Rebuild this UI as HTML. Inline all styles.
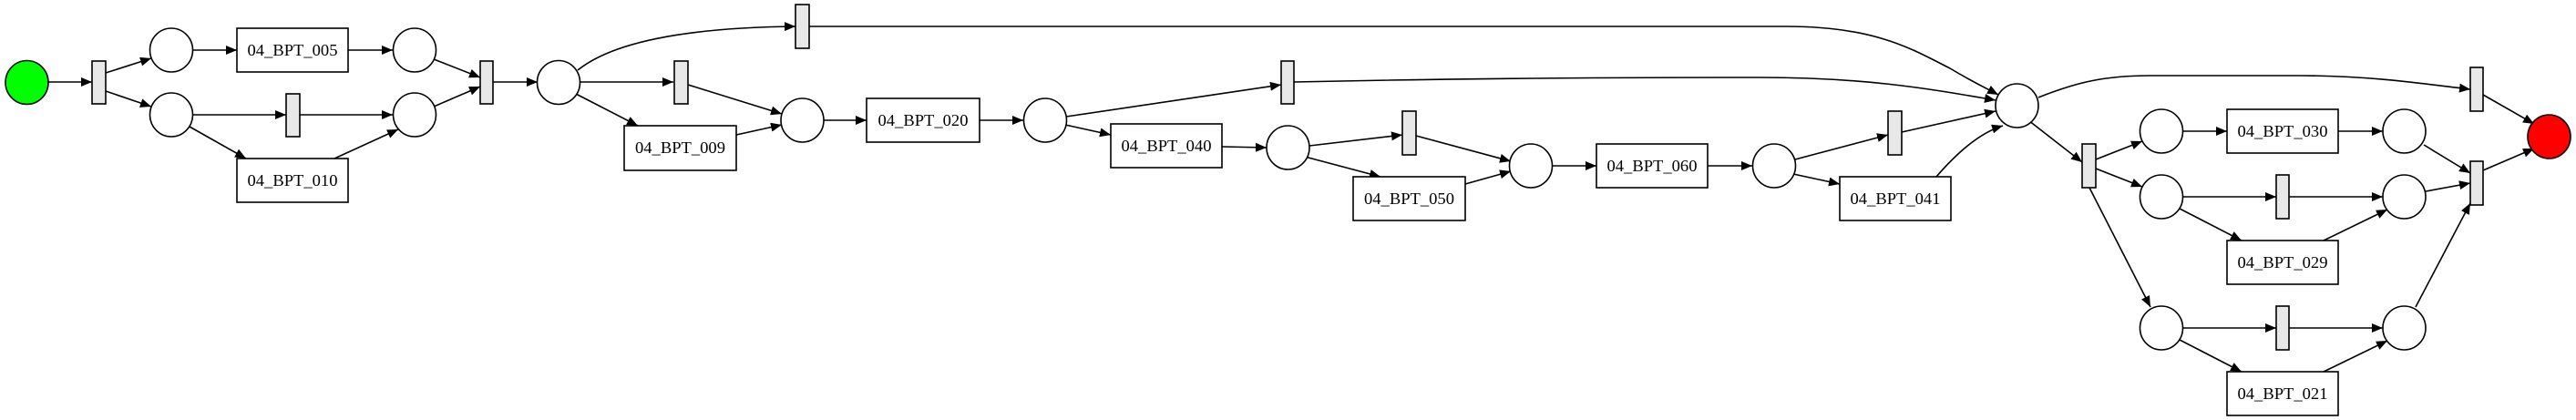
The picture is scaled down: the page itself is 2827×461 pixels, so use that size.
<!DOCTYPE html>
<html><head><meta charset="utf-8"><style>
html,body{margin:0;padding:0;background:#fff;}
svg{display:block;}
text{font-family:"Liberation Serif",serif;font-size:18px;}
</style></head><body>
<svg width="2827" height="461" viewBox="0 0 2827 461" xmlns="http://www.w3.org/2000/svg">
<defs>
<marker id="a" markerUnits="userSpaceOnUse" markerWidth="12" markerHeight="10" refX="12" refY="5" orient="auto">
<path d="M0,0 L12,5 L0,10 Z" fill="#000"/>
</marker>
</defs>
<g stroke="#000" stroke-width="1.6" fill="none" marker-end="url(#a)">
<path d="M53,90 L101,90"/>
<path d="M116,80 L166,64"/>
<path d="M116,100 L166,117"/>
<path d="M211,55 L260,55"/>
<path d="M382,55 L431,55"/>
<path d="M211,126 L314,126"/>
<path d="M329,126 L431,126"/>
<path d="M208,139 L270,174"/>
<path d="M367,174 L437,142"/>
<path d="M476,65 L527,85"/>
<path d="M476,117 L527,95"/>
<path d="M541,90 L590,90"/>
<path d="M634,77 C680,40 780,30 873,29"/>
<path d="M637,90 L739,90"/>
<path d="M632,103 L700,138"/>
<path d="M755,93 L858,125"/>
<path d="M808,148 L858,137"/>
<path d="M904,132 L951,132"/>
<path d="M1075,132 L1123,132"/>
<path d="M1170,128 L1406,93"/>
<path d="M1169,137 L1219,148"/>
<path d="M1341,161 L1390,162"/>
<path d="M1437,160 L1539,148"/>
<path d="M1432,172 L1515,194"/>
<path d="M1554,149 L1658,177"/>
<path d="M1608,202 L1658,188"/>
<path d="M1703,182 L1752,182"/>
<path d="M1874,182 L1923,182"/>
<path d="M1970,175 L2072,148"/>
<path d="M1968,191 L2019,202"/>
<path d="M2087,145 L2190,122"/>
<path d="M2125,194 C2150,165 2175,145 2198,138"/>
<path d="M888,29 L1960,29 C2060,29 2100,55 2140,75 C2165,90 2180,97 2193,104"/>
<path d="M1420,90 C1600,86 1800,85 1930,85 C2050,85 2120,98 2190,110"/>
<path d="M2226,132 L2285,178"/>
<path d="M2237,107 C2280,90 2310,83 2360,83 L2525,83 C2600,83 2660,92 2711,98"/>
<path d="M2300,175 L2351,155"/>
<path d="M2300,185 L2351,205"/>
<path d="M2293,206 L2360,337"/>
<path d="M2396,144 L2444,144"/>
<path d="M2566,144 L2615,144"/>
<path d="M2396,216 L2498,216"/>
<path d="M2512,216 L2615,216"/>
<path d="M2392,229 L2460,264"/>
<path d="M2550,264 L2620,230"/>
<path d="M2396,360 L2498,360"/>
<path d="M2512,360 L2615,360"/>
<path d="M2392,373 L2460,408"/>
<path d="M2550,408 L2620,374"/>
<path d="M2660,159 L2711,190"/>
<path d="M2662,210 L2711,201"/>
<path d="M2651,337 L2711,223"/>
<path d="M2725,104 L2781,136"/>
<path d="M2725,187 L2781,163"/>
</g>
<g stroke="#000" stroke-width="1.6">
<ellipse cx="29.5" cy="90.5" rx="23.5" ry="24" fill="#00ff00"/>
<ellipse cx="2797.5" cy="150" rx="23.5" ry="24" fill="#ff0000"/>
<g fill="#fff">
<ellipse cx="188" cy="55" rx="23.5" ry="24"/>
<ellipse cx="188" cy="126" rx="23.5" ry="24"/>
<ellipse cx="455" cy="55" rx="23.5" ry="24"/>
<ellipse cx="455" cy="126" rx="23.5" ry="24"/>
<ellipse cx="613" cy="90.5" rx="23.5" ry="24"/>
<ellipse cx="880.5" cy="132" rx="23.5" ry="24"/>
<ellipse cx="1147" cy="132" rx="23.5" ry="24"/>
<ellipse cx="1413.5" cy="162" rx="23.5" ry="24"/>
<ellipse cx="1680" cy="182" rx="23.5" ry="24"/>
<ellipse cx="1947" cy="182" rx="23.5" ry="24"/>
<ellipse cx="2213.5" cy="116" rx="23.5" ry="24"/>
<ellipse cx="2372" cy="144" rx="23.5" ry="24"/>
<ellipse cx="2638.5" cy="144" rx="23.5" ry="24"/>
<ellipse cx="2372" cy="216" rx="23.5" ry="24"/>
<ellipse cx="2638.5" cy="216" rx="23.5" ry="24"/>
<ellipse cx="2372" cy="360" rx="23.5" ry="24"/>
<ellipse cx="2638.5" cy="360" rx="23.5" ry="24"/>
<rect x="260" y="31" width="122" height="48"/>
<rect x="260" y="174" width="122" height="48"/>
<rect x="685" y="138" width="123" height="49"/>
<rect x="951" y="108" width="124" height="48"/>
<rect x="1219" y="136" width="122" height="48"/>
<rect x="1485" y="194" width="123" height="48"/>
<rect x="1752" y="158" width="122" height="48"/>
<rect x="2019" y="194" width="122" height="48"/>
<rect x="2444" y="120" width="122" height="48"/>
<rect x="2444" y="264" width="122" height="48"/>
<rect x="2444" y="408" width="122" height="48"/>
</g>
<g fill="#e8e8e8">
<rect x="101" y="67" width="15" height="47"/>
<rect x="314" y="103" width="15" height="47"/>
<rect x="527" y="67" width="14" height="47"/>
<rect x="873" y="5" width="15" height="48"/>
<rect x="740" y="67" width="15" height="47"/>
<rect x="1406" y="67" width="14" height="47"/>
<rect x="1539" y="122" width="15" height="48"/>
<rect x="2072" y="122" width="15" height="48"/>
<rect x="2285" y="158" width="15" height="48"/>
<rect x="2498" y="192" width="14" height="48"/>
<rect x="2498" y="336" width="14" height="48"/>
<rect x="2711" y="74" width="14" height="48"/>
<rect x="2711" y="177" width="14" height="48"/>
</g>
</g>
<g fill="#000" text-anchor="middle">
<text x="321" y="61" textLength="99" lengthAdjust="spacingAndGlyphs">04_BPT_005</text>
<text x="321" y="204" textLength="99" lengthAdjust="spacingAndGlyphs">04_BPT_010</text>
<text x="746.5" y="168" textLength="99" lengthAdjust="spacingAndGlyphs">04_BPT_009</text>
<text x="1013" y="138" textLength="99" lengthAdjust="spacingAndGlyphs">04_BPT_020</text>
<text x="1280" y="166" textLength="99" lengthAdjust="spacingAndGlyphs">04_BPT_040</text>
<text x="1546.5" y="224" textLength="99" lengthAdjust="spacingAndGlyphs">04_BPT_050</text>
<text x="1813" y="188" textLength="99" lengthAdjust="spacingAndGlyphs">04_BPT_060</text>
<text x="2080" y="224" textLength="99" lengthAdjust="spacingAndGlyphs">04_BPT_041</text>
<text x="2505" y="150" textLength="99" lengthAdjust="spacingAndGlyphs">04_BPT_030</text>
<text x="2505" y="294" textLength="99" lengthAdjust="spacingAndGlyphs">04_BPT_029</text>
<text x="2505" y="438" textLength="99" lengthAdjust="spacingAndGlyphs">04_BPT_021</text>
</g>
</svg>
</body></html>
